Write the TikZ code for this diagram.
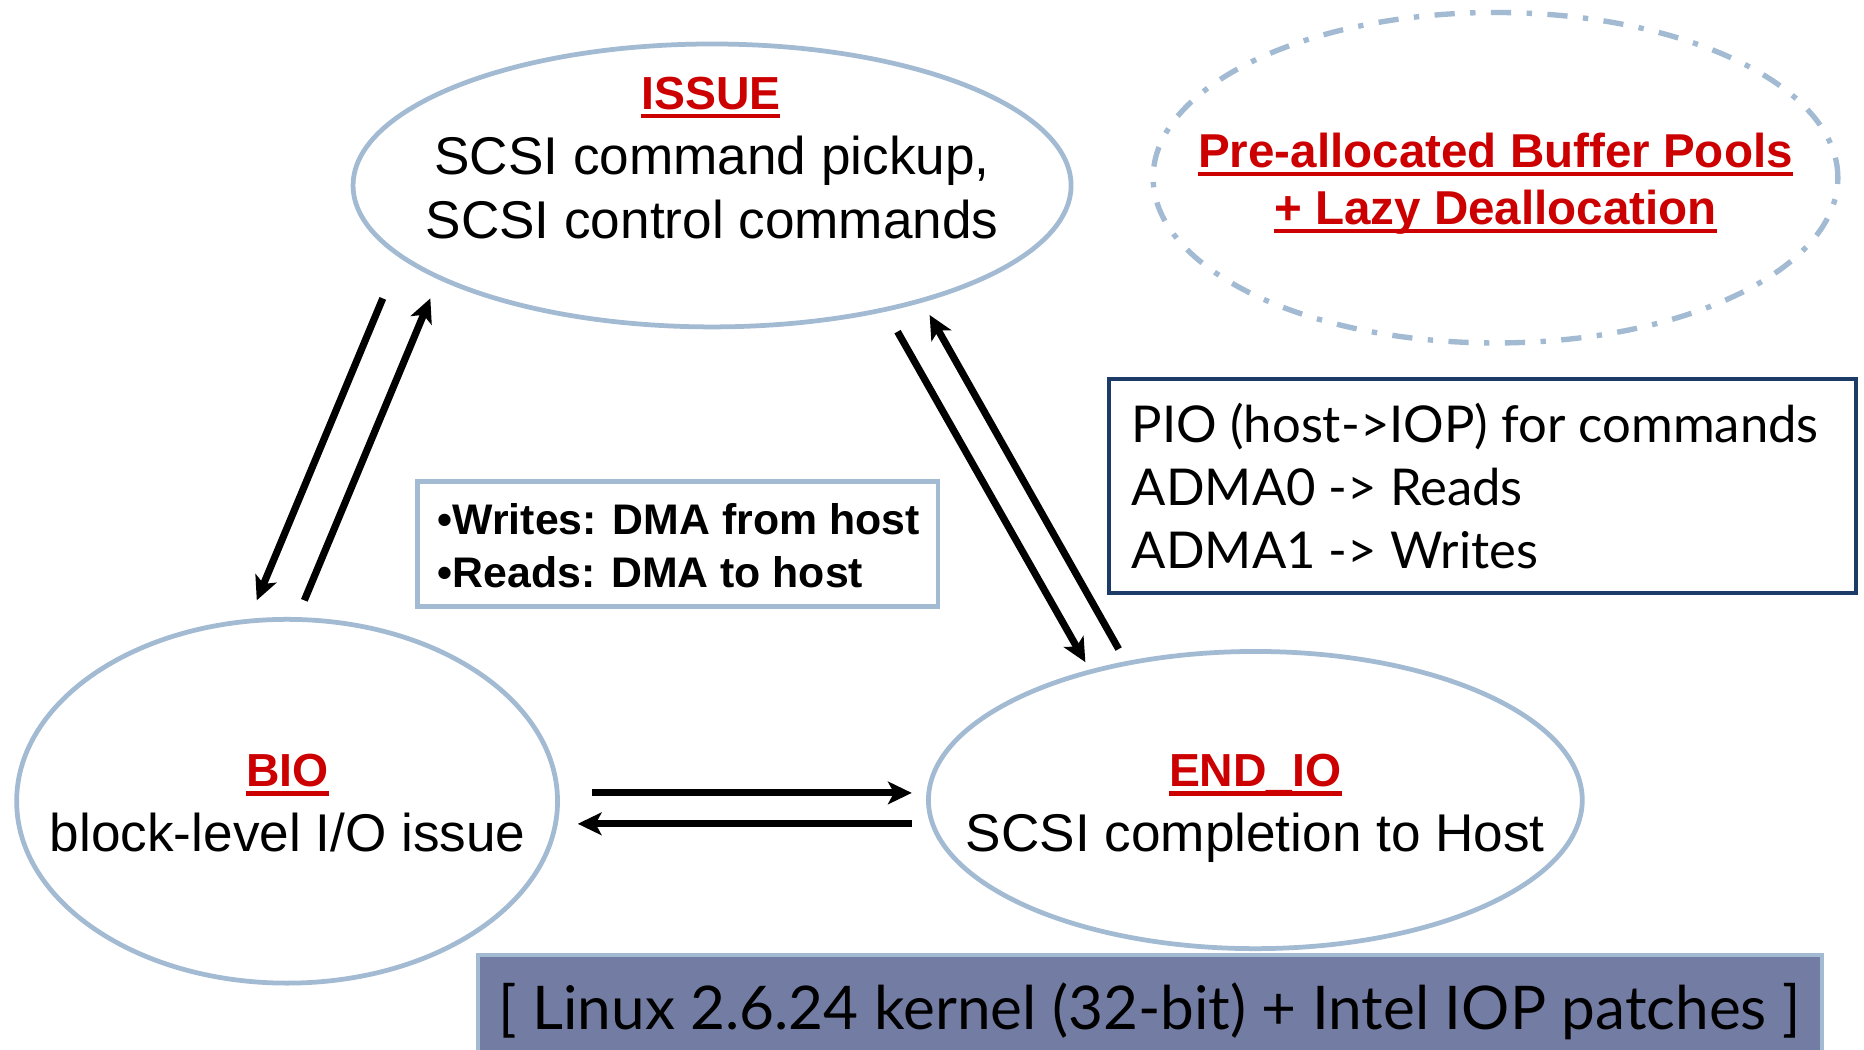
\documentclass[tikz,border=0pt]{standalone}
\usepackage{fontspec}
\setmainfont{Liberation Sans}
\newfontfamily\gillfont{Lato}
\usetikzlibrary{shapes.geometric,arrows.meta}

\definecolor{ringblue}{HTML}{A2BAD2}
\definecolor{hdred}{HTML}{CC0000}
\definecolor{navy}{HTML}{1C3B66}
\definecolor{slate}{HTML}{737DA3}

% red heading with a heavy underline
\newcommand\redhead[1]{\setbox0\hbox{\bfseries #1}%
  \rlap{\rule[-0.185em]{\wd0}{0.09em}}\box0}

\tikzset{
  stage/.style={ellipse, draw=ringblue, line width=4pt, inner sep=0pt},
  note/.style={ellipse, draw=ringblue, line width=4.5pt, inner sep=0pt,
    dash pattern=on 17pt off 13pt on 4.5pt off 13pt},
  head/.style={anchor=base, inner sep=0pt, text=hdred, font=\fontsize{39}{44}\selectfont},
  body/.style={anchor=base, inner sep=0pt, font=\fontsize{44.7}{52}\selectfont},
  flow/.style={line width=6pt, -{Stealth[length=20pt,width=19pt,inset=5pt]}},
}

\begin{document}
\begin{tikzpicture}[x=1pt, y=-1pt]
\useasboundingbox (0,0) rectangle (1568,883);
\clip (0,0) rectangle (1568,883);

% --- processing stages ---
\node[stage, minimum width=604pt, minimum height=238pt] (issue) at (599,156) {};
\node[stage, minimum width=455pt, minimum height=306pt] (bio) at (241.5,674) {};
\node[stage, minimum width=550pt, minimum height=250pt] (endio) at (1056,673) {};

\node[head] (issue-h) at (598,92) {\redhead{ISSUE}};
\node[body] (issue-a) at (599,147) {SCSI command pickup,};
\node[body] (issue-b) at (599,201) {SCSI control commands};

\node[head] (bio-h) at (242,662) {\redhead{BIO}};
\node[body] (bio-a) at (242,716) {block-level I/O issue};

\node[head] (endio-h) at (1056,662) {\redhead{END\_IO}};
\node[body] (endio-a) at (1056,716) {SCSI completion to Host};

% --- buffer management note ---
\node[note, minimum width=576pt, minimum height=278pt] (pool) at (1258,149.5) {};
\node[head, font=\fontsize{40}{46}\selectfont] (pool-a) at (1258,141) {\redhead{Pre-allocated Buffer Pools}};
\node[head, font=\fontsize{40}{46}\selectfont] (pool-b) at (1258,189) {\redhead{+ Lazy Deallocation}};

% --- DMA direction box ---
\node[draw=ringblue, line width=4pt, minimum width=438pt, minimum height=105pt, inner sep=0pt] (dma) at (570,457.5) {};
\node[anchor=base west, inner sep=0pt, font=\bfseries\fontsize{36}{44}\selectfont] (dma-a) at (368,450) {•Writes: DMA from host};
\node[anchor=base west, inner sep=0pt, font=\bfseries\fontsize{36}{44}\selectfont] (dma-b) at (368,494) {•Reads: DMA to host};

% --- transfer engines box ---
\node[draw=navy, line width=3.5pt, minimum width=628pt, minimum height=180pt, inner sep=0pt] (pio) at (1247,409) {};
\node[anchor=base west, inner sep=0pt, font=\gillfont\fontsize{42.7}{53}\selectfont] (pio-a) at (952,372) {PIO (host->IOP) for commands};
\node[anchor=base west, inner sep=0pt, font=\gillfont\fontsize{42.7}{53}\selectfont] (pio-b) at (952,425) {ADMA0 -> Reads};
\node[anchor=base west, inner sep=0pt, font=\gillfont\fontsize{42.7}{53}\selectfont] (pio-c) at (952,478) {ADMA1 -> Writes};

% --- platform banner ---
\node[draw=ringblue, fill=slate, line width=3.5pt, minimum width=1131pt, minimum height=92pt, inner sep=0pt] (banner) at (967.5,849) {};
\node[anchor=base, inner sep=0pt, font=\gillfont\fontsize{50.7}{58}\selectfont] (banner-t) at (967,866) {[ Linux 2.6.24 kernel (32-bit) + Intel IOP patches ]};

% --- flows between stages ---
\draw[flow] ([shift={(-277,95)}]issue.center) -- ([shift={(-25.5,-169)}]bio.center);
\draw[flow] ([shift={(14.5,-169)}]bio.center) -- ([shift={(-237,95)}]issue.center);
\draw[flow] ([shift={(156,123)}]issue.center) -- ([shift={(-143,-116)}]endio.center);
\draw[flow] ([shift={(-115,-127)}]endio.center) -- ([shift={(183,109)}]issue.center);
\draw[flow] ([shift={(256.5,-7)}]bio.center) -- ([shift={(-289,-6)}]endio.center);
\draw[flow] ([shift={(-289,20)}]endio.center) -- ([shift={(244.5,19)}]bio.center);
\end{tikzpicture}
\end{document}
